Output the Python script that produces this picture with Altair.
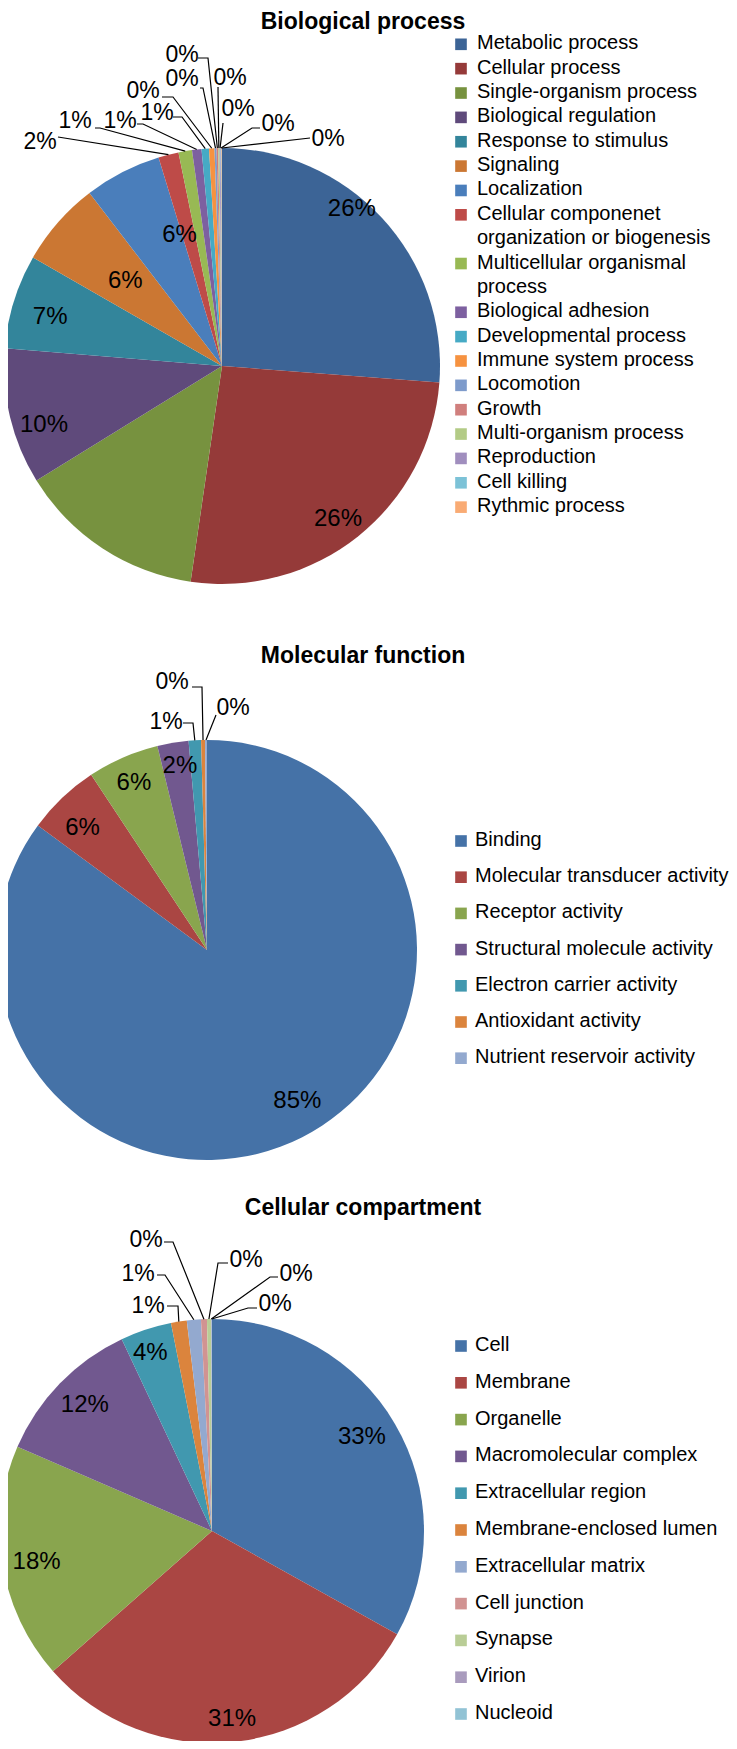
import math
import altair as alt
import pandas as pd

# ---------------- data ----------------
bp_cats = ["Metabolic process", "Cellular process", "Single-organism process", "Biological regulation",
           "Response to stimulus", "Signaling", "Localization",
           "Cellular componenet organization or biogenesis", "Multicellular organismal process",
           "Biological adhesion", "Developmental process", "Immune system process", "Locomotion",
           "Growth", "Multi-organism process", "Reproduction", "Cell killing", "Rythmic process"]
bp_vals = [26.2, 26.1, 13.9, 10.1, 7.0, 6.3, 5.7, 1.5, 1.0, 0.7, 0.55, 0.4, 0.15, 0.12, 0.1, 0.08, 0.06, 0.04]
bp_labels = ["26%", "26%", "", "10%", "7%", "6%", "6%", "2%", "1%", "1%", "1%",
             "0%", "0%", "0%", "0%", "0%", "0%", "0%"]
bp_colors = ["#3C6496", "#953A39", "#77923F", "#5F4A7B", "#33859B", "#CB7733",
             "#4A7EBB", "#BE4B48", "#98B954", "#7D60A0", "#46AAC5", "#F69240",
             "#7E9BCB", "#D07F7D", "#B3CB86", "#A08EBE", "#7CC2D7", "#F9AB74"]

mf_cats = ["Binding", "Molecular transducer activity", "Receptor activity",
           "Structural molecule activity", "Electron carrier activity",
           "Antioxidant activity", "Nutrient reservoir activity"]
mf_vals = [85.1, 5.6, 5.5, 2.4, 0.95, 0.3, 0.15]
mf_labels = ["85%", "6%", "6%", "2%", "1%", "0%", "0%"]
mf_colors = ["#4572A7", "#AA4643", "#89A54E", "#71588F", "#4198AF", "#DB843D", "#93A9CF"]

cc_cats = ["Cell", "Membrane", "Organelle", "Macromolecular complex", "Extracellular region",
           "Membrane-enclosed lumen", "Extracellular matrix", "Cell junction", "Synapse",
           "Virion", "Nucleoid"]
cc_vals = [33.1, 30.4, 18.0, 11.5, 3.9, 1.2, 1.07, 0.45, 0.3, 0.05, 0.03]
cc_labels = ["33%", "31%", "18%", "12%", "4%", "1%", "1%", "0%", "0%", "0%", "0%"]
cc_colors = ["#4572A7", "#AA4643", "#89A54E", "#71588F", "#4198AF", "#DB843D",
             "#93A9CF", "#D19392", "#B9CD96", "#A99BBD", "#92C3D5"]

titles = ["Biological process", "Molecular function", "Cellular compartment"]

# ---------------- layout (page pixels) ----------------
W, H, M = 721, 1733, 8

layout = [
    dict(cx=222, cy=366, r=218, title_y=29, leg_y0=43.3, leg_pitch=24.36, narrow=False,
         wrap={7: ["Cellular componenet", "organization or biogenesis"],
               8: ["Multicellular organismal", "process"]},
         inside={0: (0.935, -7.6), 1: (0.88, 1.5), 3: (0.86, -4.8), 4: (0.82, -1.3),
                 5: (0.59, 0.0), 6: (0.63, 9.2)},
         outside={7: ((40, 142), [(58, 137)]),
                  8: ((75, 121), [(95, 128), (100, 128)]),
                  9: ((120, 121), [(137, 124), (143, 124)]),
                  10: ((157, 113), [(173, 117), (182, 117)]),
                  11: ((143, 91), [(162, 97), (173, 97)]),
                  12: ((182, 79), [(200, 88), (203, 88)]),
                  13: ((182, 55), [(198, 58), (208, 58)]),
                  14: ((230, 78), [(218, 87)]),
                  15: ((238, 109), [(223, 123)]),
                  16: ((278, 124), [(260, 128), (252, 128)]),
                  17: ((328, 139), [(310, 138)])}),
    dict(cx=207, cy=950, r=210, title_y=663, leg_y0=840, leg_pitch=36.2, narrow=True, wrap={},
         inside={0: (0.84, -4.0), 1: (0.83, -2.0), 2: (0.87, 0.0), 3: (0.886, 1.0)},
         outside={4: ((166, 722), [(183, 723), (193, 723)]),
                  5: ((172, 682), [(192, 687), (202, 687)]),
                  6: ((233, 708), [(216, 715)])}),
    dict(cx=212, cy=1531, r=212, title_y=1215, leg_y0=1345, leg_pitch=36.8, narrow=True, wrap={},
         inside={0: (0.835, -1.7), 1: (0.89, 0.0), 2: (0.84, -1.0), 3: (0.845, 0.7), 4: (0.89, -0.9)},
         outside={5: ((148, 1306), [(167, 1306), (178, 1306)]),
                  6: ((138, 1274), [(157, 1275), (165, 1275)]),
                  7: ((146, 1240), [(164, 1242), (173, 1242)]),
                  8: ((246, 1260), [(228, 1263), (218, 1263)]),
                  9: ((296, 1274), [(278, 1277), (270, 1277)]),
                  10: ((275, 1304), [(257, 1308), (248, 1308)])}),
]

TITLE_X = 363
LEG_SQ_X = 461
LEG_TX_X = 477
LEG_TX_X_N = 475

pies = [(bp_cats, bp_vals, bp_labels, bp_colors),
        (mf_cats, mf_vals, mf_labels, mf_colors),
        (cc_cats, cc_vals, cc_labels, cc_colors)]


def P(v):
    return v - M


def polar(cx, cy, rad, ang):
    a = math.radians(ang)
    return cx + rad * math.sin(a), cy - rad * math.cos(a)


XS = alt.Scale(domain=[0, W], range=[0, W], nice=False, zero=False)
YS = alt.Scale(domain=[0, H], range=[0, H], nice=False, zero=False)


def xy():
    return dict(x=alt.X("x:Q", scale=XS, axis=None), y=alt.Y("y:Q", scale=YS, axis=None))


layers = []
in_rows, out_rows, line_rows, title_rows = [], [], [], []
leg_sq_rows, leg_tx_rows, leg_tx_rows_n = [], [], []
all_keys, all_cols = [], []

for p, ((cats, vals, labels, colors), L) in enumerate(zip(pies, layout)):
    df = pd.DataFrame({"cat": cats, "v": vals, "i": list(range(len(cats)))})
    arc = alt.Chart(df).mark_arc(radius=L["r"]).encode(
        theta=alt.Theta("v:Q", stack=True),
        order=alt.Order("i:Q", sort="ascending"),
        color=alt.Color("cat:N", scale=alt.Scale(domain=cats, range=colors), legend=None),
        x=alt.value(P(L["cx"])), y=alt.value(P(L["cy"])),
    )
    layers.append(arc)

    total = sum(vals)
    cum = 0.0
    for i, v in enumerate(vals):
        mid = (cum + v / 2) / total * 360.0
        cum += v
        if i in L["inside"]:
            rf, dang = L["inside"][i]
            x, y = polar(L["cx"], L["cy"], rf * L["r"], mid + dang)
            in_rows.append({"x": P(x), "y": P(y), "text": labels[i]})
        if i in L["outside"]:
            (lx, ly), pts = L["outside"][i]
            out_rows.append({"x": P(lx), "y": P(ly), "text": labels[i]})
            ex, ey = polar(L["cx"], L["cy"], L["r"], mid)
            seq = pts + [(ex, ey)]
            for k, (px, py) in enumerate(seq):
                line_rows.append({"id": f"{p}-{i}", "k": k, "x": P(px), "y": P(py)})

    title_rows.append({"x": P(TITLE_X), "y": P(L["title_y"]), "text": titles[p]})

    line_no = 0
    for i, c in enumerate(cats):
        key = f"{p}:{c}"
        all_keys.append(key)
        all_cols.append(colors[i])
        y0 = L["leg_y0"] + L["leg_pitch"] * line_no
        leg_sq_rows.append({"x": P(LEG_SQ_X), "y": P(y0 + 1), "key": key})
        parts = L["wrap"].get(i, [c])
        tx = LEG_TX_X_N if L["narrow"] else LEG_TX_X
        for j, part in enumerate(parts):
            row = {"x": P(tx), "y": P(L["leg_y0"] + L["leg_pitch"] * (line_no + j)), "text": part}
            (leg_tx_rows_n if L["narrow"] else leg_tx_rows).append(row)
        line_no += len(parts)

FONT = "Liberation Sans, Arial, sans-serif"

layers.append(alt.Chart(pd.DataFrame(in_rows)).mark_text(
    font=FONT, fontSize=24, align="center", baseline="middle", color="#000000").encode(
    text="text:N", **xy()))
layers.append(alt.Chart(pd.DataFrame(out_rows)).mark_text(
    font=FONT, fontSize=23, align="center", baseline="middle", color="#000000").encode(
    text="text:N", **xy()))
layers.append(alt.Chart(pd.DataFrame(line_rows)).mark_line(
    color="#000000", strokeWidth=1.2).encode(
    detail="id:N", order="k:Q", **xy()))
layers.append(alt.Chart(pd.DataFrame(title_rows)).mark_text(
    font=FONT, fontSize=23, fontWeight="bold", align="center", baseline="alphabetic",
    color="#000000").encode(text="text:N", **xy()))
layers.append(alt.Chart(pd.DataFrame(leg_sq_rows)).mark_square(size=135, opacity=1).encode(
    color=alt.Color("key:N", scale=alt.Scale(domain=all_keys, range=all_cols), legend=None),
    **xy()))
layers.append(alt.Chart(pd.DataFrame(leg_tx_rows)).mark_text(
    font=FONT, fontSize=20, align="left", baseline="middle", color="#000000").encode(
    text="text:N", **xy()))
layers.append(alt.Chart(pd.DataFrame(leg_tx_rows_n)).mark_text(
    font=FONT, fontSize=20, align="left", baseline="middle", color="#000000").encode(
    text="text:N", **xy()))

chart = alt.layer(*layers).resolve_scale(
    theta="independent", color="independent"
).properties(
    width=W, height=H, padding=0, autosize=alt.AutoSizeParams(type="none")
).configure_view(strokeWidth=0)

chart.save("out.html", embed_options={"renderer": "svg", "actions": False})
